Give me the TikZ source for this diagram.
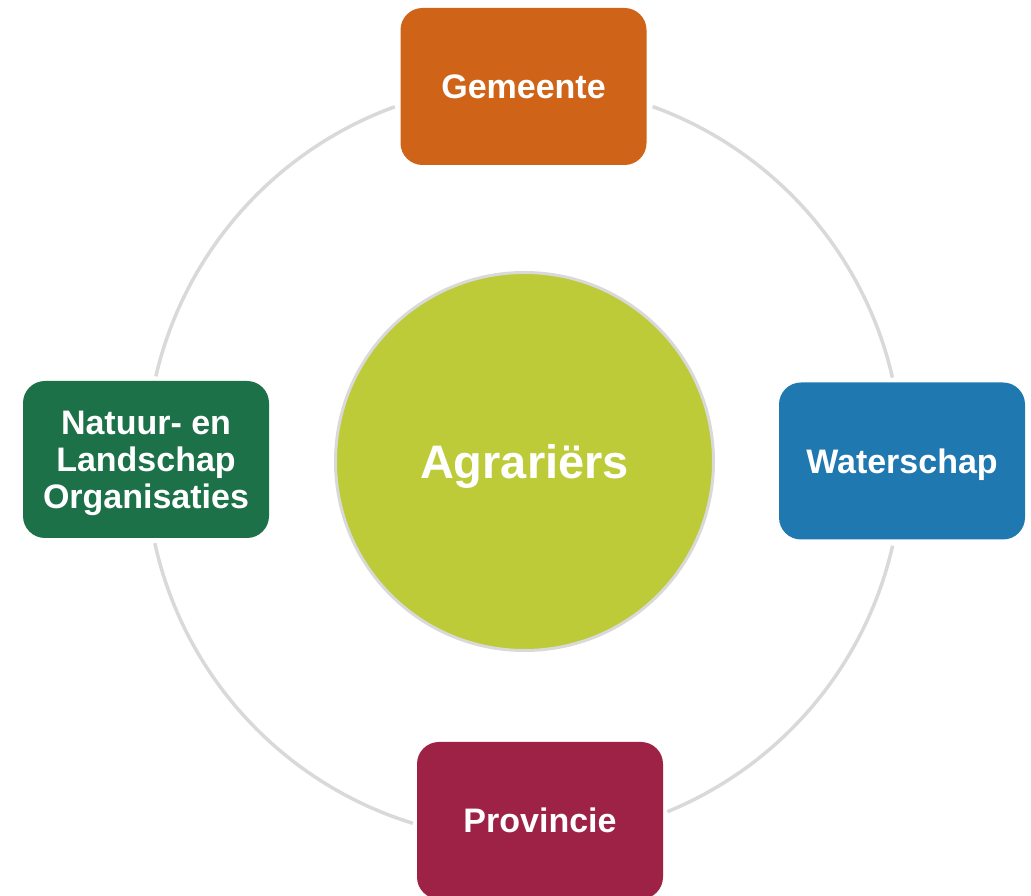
\documentclass[tikz,border=0pt]{standalone}
\usepackage{fontspec}
\setmainfont{Liberation Sans}
\definecolor{gemc}{HTML}{CF6318}
\definecolor{watc}{HTML}{1F78B0}
\definecolor{proc}{HTML}{9D2246}
\definecolor{natc}{HTML}{1D7148}
\definecolor{agrc}{HTML}{BCCB37}
\definecolor{ringc}{HTML}{D9D9D9}
\begin{document}
\begin{tikzpicture}[x=1pt,y=1pt,
  box/.style={rounded corners=22pt, minimum width=246pt, minimum height=157pt,
    inner sep=0pt, text=white, align=center,
    font=\fontsize{34}{37}\selectfont\bfseries,
    text height=24.4pt, text depth=0pt},
  ring/.style={draw=ringc, line width=3.5pt},
  hub/.style={circle, fill=agrc, draw=ringc, line width=3pt, minimum size=378pt,
    inner sep=0pt, text=white, font=\fontsize{47}{50}\selectfont\bfseries,
    text height=33.6pt, text depth=0pt}]
\useasboundingbox (0,0) rectangle (1031,896);
\coordinate (c) at (524,434);
% outer ring segments
\draw[ring] ([shift={(110:378)}]c) arc[start angle=110, end angle=166.9, radius=378];
\draw[ring] ([shift={(192.4:378)}]c) arc[start angle=192.4, end angle=252.9, radius=378];
\draw[ring] ([shift={(292.3:378)}]c) arc[start angle=292.3, end angle=347.2, radius=378];
\draw[ring] ([shift={(12.9:378)}]c) arc[start angle=12.9, end angle=70.1, radius=378];
% nodes
\node[hub] (agr) at (524.5,434.5) {Agrariërs};
\node[box, fill=gemc] (gem) at (523.5,809.5) {Gemeente};
\node[box, fill=natc, text height=98.4pt] (nat) at (146,436.5) {Natuur- en\\Landschap\\Organisaties};
\node[box, fill=watc] (wat) at (902,435) {Waterschap};
\node[box, fill=proc] (pro) at (540,75.5) {Provincie};
\end{tikzpicture}
\end{document}
